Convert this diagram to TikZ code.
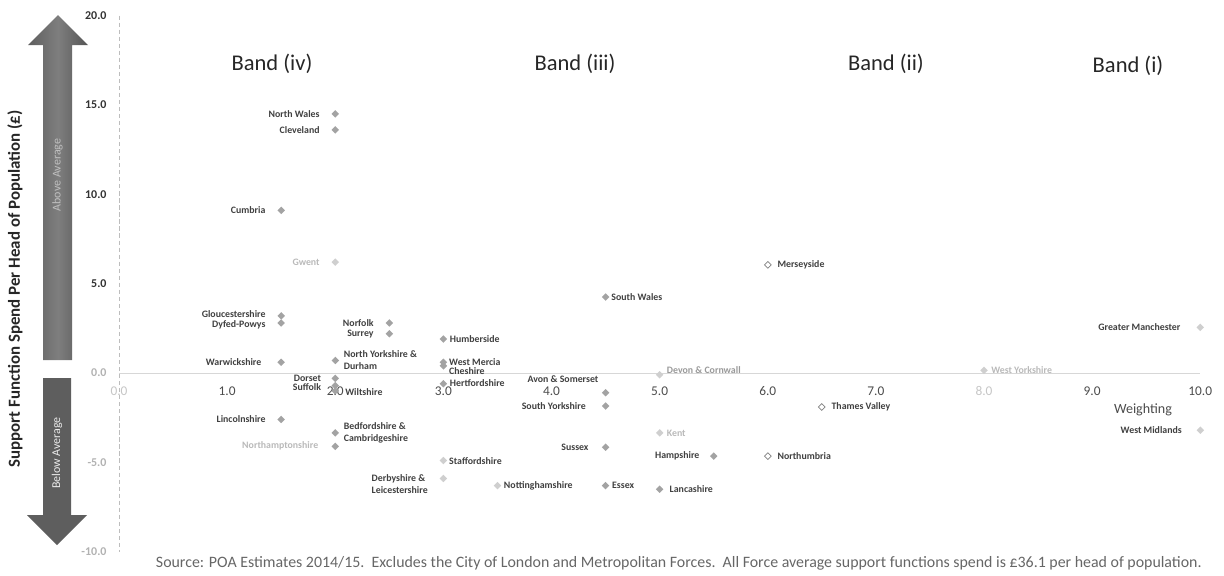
\documentclass[tikz,border=0pt]{standalone}
\usepackage{fontspec}
\setmainfont{Carlito}
\usepackage{xcolor}
\usepackage{tikz}
\usetikzlibrary{positioning,shapes.geometric}

\definecolor{dotgray}{HTML}{A3A3A3}
\definecolor{fadegray}{HTML}{CFCFCF}
\definecolor{labgray}{HTML}{404040}
\definecolor{arrowgray}{HTML}{5E5E5E}
\definecolor{axisgray}{HTML}{BDBDBD}

\tikzset{
  dot/.style={diamond, fill=dotgray, inner sep=0pt, minimum size=5.5pt},
  fadedot/.style={dot, fill=fadegray},
  opendot/.style={dot, fill=white, draw=gray, line width=0.5pt, minimum size=5pt},
  lab/.style={font=\bfseries\fontsize{7}{8.5}\selectfont, text=labgray, inner sep=1pt, align=left},
  fadelab/.style={lab, text=gray!55},
  band/.style={font=\fontsize{16}{19}\selectfont, text=black!85},
  ylab/.style={font=\bfseries\fontsize{8.5}{10}\selectfont, text=black!80, anchor=east, inner sep=1pt},
  xlab/.style={font=\fontsize{9.5}{11}\selectfont, text=black!70, inner sep=1pt}
}

\begin{document}
\begin{tikzpicture}[x=0.025cm, y=-0.025cm]
		\useasboundingbox (0,0) rectangle (1224,575);
		% Draw arrows
		\shade[left color=arrowgray, right color=arrowgray!90!black, middle color=arrowgray!80!white]
		(43,360) -- (43,45) -- (28,45) -- (58,15) -- (88,45) -- (72,45) -- (72,360) -- cycle;
		\fill[arrowgray] (43,378) -- (43,515) -- (27,515) -- (57,545) -- (87,515) -- (71,515) -- (71,378) -- cycle;
		\node[rotate=90, text=white!75!black, font=\fontsize{8.5}{10}\selectfont] (above) at (57.5,175) {Above Average};
		\node[rotate=90, text=white!92!black, font=\fontsize{8.5}{10}\selectfont] (below) at (57,453) {Below Average};
		\node[rotate=90, font=\bfseries\fontsize{12}{14}\selectfont, text=black!85] (ytitle) at (15,289) {Support Function Spend Per Head of Population (£)};
		% Band headings
		\node[band] (bandiv) at (272,64) {Band (iv)};
		\node[band] (bandiii) at (575,64) {Band (iii)};
		\node[band] (bandii) at (886,64) {Band (ii)};
		\node[band] (bandi) at (1128,66) {Band (i)};
		% Source line
		\node[anchor=west, font=\fontsize{11.3}{13}\selectfont, text=black!60] (source) at (151,563)
		{Source: POA Estimates 2014/15.\ \ Excludes the City of London and Metropolitan Forces.\ \ All Force average support functions spend is £36.1 per head of population.};

		\begin{scope}[shift={(119,373)}, x=2.7025cm, y=0.44675cm]
		% Draw axes
		\draw[axisgray, densely dashed, thin] (0,20) -- (0,-10);
		\draw[axisgray!60, thin] (0,0) -- (10,0);
		\foreach \y in {5,10,15,20}
		\node[ylab] at (-0.1,\y) {\y.0};
		\foreach \y in {0,-5,-10}
		\node[ylab, text=gray!60] at (-0.1,\y) {\y.0};
		\foreach \x in {1,...,7,9,10}
		\node[xlab] at (\x,-1) {\x.0};
		\foreach \x in {0,8}
		\node[xlab, text=gray!45] at (\x,-1) {\x.0};
		\node[xlab, font=\fontsize{10}{12}\selectfont] (weight) at (9.47,-2.07) {Weighting};

		% Band (iv)
		\node[dot] (nwales) at (2,14.5) {};
		\node[lab, left=7pt of nwales] (nwalesL) {North Wales};
		\node[dot] (clev) at (2,13.6) {};
		\node[lab, left=7pt of clev] (clevL) {Cleveland};
		\node[dot] (cumb) at (1.5,9.1) {};
		\node[lab, left=7pt of cumb] (cumbL) {Cumbria};
		\node[fadedot] (gwent) at (2,6.2) {};
		\node[fadelab, left=7pt of gwent] (gwentL) {Gwent};
		\node[dot] (glos) at (1.5,3.2) {};
		\node[lab, left=7pt of glos, yshift=1.2pt] (glosL) {Gloucestershire};
		\node[dot] (dyfed) at (1.5,2.8) {};
		\node[lab, left=7pt of dyfed, yshift=-1.2pt] (dyfedL) {Dyfed-Powys};
		\node[dot] (warw) at (1.5,0.6) {};
		\node[lab, left=10pt of warw] (warwL) {Warwickshire};
		\node[dot] (linc) at (1.5,-2.6) {};
		\node[lab, left=7pt of linc] (lincL) {Lincolnshire};
		\node[dot] (nyork) at (2,0.7) {};
		\node[lab, right=2pt of nyork] (nyorkL) {North Yorkshire \&\\Durham};
		\node[dot] (dors) at (2,-0.3) {};
		\node[lab, left=6pt of dors] (dorsL) {Dorset};
		\node[dot] (suff) at (2,-0.7) {};
		\node[lab, left=6pt of suff, yshift=-1pt] (suffL) {Suffolk};
		\node[dot] (wilt) at (2,-1.0) {};
		\node[lab, right=3pt of wilt, yshift=-1pt] (wiltL) {Wiltshire};
		\node[dot] (beds) at (2,-3.35) {};
		\node[lab, right=2pt of beds] (bedsL) {Bedfordshire \&\\Cambridgeshire};
		\node[dot] (northa) at (2,-4.1) {};
		\node[fadelab, left=8pt of northa] (northaL) {Northamptonshire};
		\node[dot] (norf) at (2.5,2.8) {};
		\node[lab, left=7pt of norf] (norfL) {Norfolk};
		\node[dot] (surr) at (2.5,2.2) {};
		\node[lab, left=7pt of surr] (surrL) {Surrey};

		% Band (iii)
		\node[dot] (humb) at (3,1.9) {};
		\node[lab, right=0.5pt of humb] (humbL) {Humberside};
		\node[dot] (wmerc) at (3,0.6) {};
		\node[lab, right=0pt of wmerc, yshift=0.5pt] (wmercL) {West Mercia};
		\node[dot] (chesh) at (3,0.4) {};
		\node[lab, right=0pt of chesh, yshift=-3.5pt] (cheshL) {Cheshire};
		\node[dot] (herts) at (3,-0.6) {};
		\node[lab, right=0.5pt of herts, yshift=0.5pt] (hertsL) {Hertfordshire};
		\node[fadedot] (staffs) at (3,-4.9) {};
		\node[lab, right=0pt of staffs] (staffsL) {Staffordshire};
		\node[fadedot] (derby) at (3,-5.9) {};
		\node[lab, left=7pt of derby, yshift=-4pt] (derbyL) {Derbyshire \&\\Leicestershire};
		\node[fadedot] (notts) at (3.5,-6.3) {};
		\node[lab, right=0.5pt of notts] (nottsL) {Nottinghamshire};
		\node[dot] (avon) at (4.5,-1.1) {};
		\node[lab, left=1pt of avon, yshift=9.5pt] (avonL) {Avon \& Somerset};
		\node[dot] (syork) at (4.5,-1.85) {};
		\node[lab, left=10pt of syork] (syorkL) {South Yorkshire};
		\node[dot] (suss) at (4.5,-4.15) {};
		\node[lab, left=8pt of suss] (sussL) {Sussex};
		\node[dot] (essex) at (4.5,-6.3) {};
		\node[lab, right=0.5pt of essex, yshift=0.5pt] (essexL) {Essex};
		\node[dot] (swales) at (4.5,4.25) {};
		\node[lab, right=0pt of swales] (swalesL) {South Wales};
		\node[fadedot] (devon) at (5,-0.1) {};
		\node[lab, text=gray!80, right=1pt of devon, yshift=3pt] (devonL) {Devon \& Cornwall};
		\node[fadedot] (kent) at (5,-3.35) {};
		\node[fadelab, right=1pt of kent] (kentL) {Kent};
		\node[dot] (hants) at (5.5,-4.65) {};
		\node[lab, left=6pt of hants] (hantsL) {Hampshire};
		\node[dot] (lancs) at (5,-6.5) {};
		\node[lab, right=3pt of lancs] (lancsL) {Lancashire};

		% Band (ii)
		\node[opendot] (mers) at (6,6.05) {};
		\node[lab, right=3pt of mers] (mersL) {Merseyside};
		\node[opendot] (thames) at (6.5,-1.9) {};
		\node[lab, right=3pt of thames] (thamesL) {Thames Valley};
		\node[opendot] (nthumb) at (6,-4.65) {};
		\node[lab, right=3pt of nthumb] (nthumbL) {Northumbria};

		% Band (i)
		\node[fadedot] (wyork) at (8,0.15) {};
		\node[fadelab, right=1pt of wyork] (wyorkL) {West Yorkshire};
		\node[fadedot] (gman) at (10,2.55) {};
		\node[lab, left=10pt of gman] (gmanL) {Greater Manchester};
		\node[fadedot] (wmids) at (10,-3.2) {};
		\node[lab, left=9pt of wmids] (wmidsL) {West Midlands};
		\end{scope}
	\end{tikzpicture}
\end{document}
